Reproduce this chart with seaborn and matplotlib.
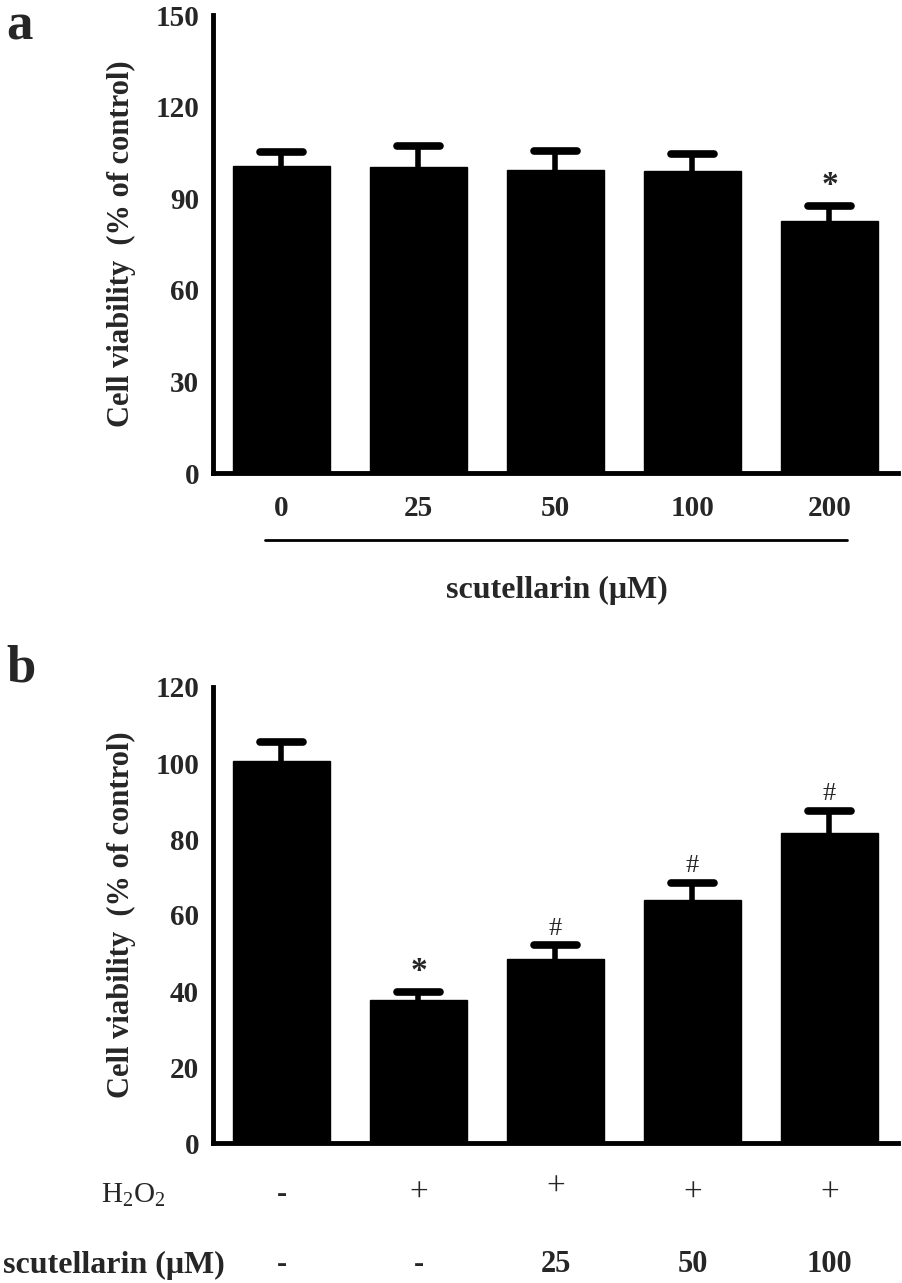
import numpy as np
import pandas as pd
import seaborn as sns
import matplotlib.pyplot as plt
import matplotlib.transforms as mtransforms

# panel a: scutellarin alone
a_doses = ['0', '25', '50', '100', '200']
a_means = [100.5, 100.3, 99.2, 98.9, 82.5]
a_err = [4.5, 6.8, 6.3, 5.6, 5.0]
a_marks = ['', '', '', '', '*']

# panel b: H2O2 + scutellarin
b_groups = ['ctrl', 'H2O2', 'H2O2+25', 'H2O2+50', 'H2O2+100']
b_means = [100.5, 37.6, 48.5, 64.0, 81.5]
b_err = [5.0, 2.2, 3.5, 4.5, 6.0]
b_marks = ['', '*', '#', '#', '#']
b_h2o2 = ['-', '+', '+', '+', '+']
b_scut = ['-', '-', '25', '50', '100']

sns.set_style('white')
plt.rcParams['font.family'] = ['Liberation Serif', 'DejaVu Serif']
plt.rcParams['mathtext.fontset'] = 'custom'
plt.rcParams['mathtext.rm'] = 'Liberation Serif'
plt.rcParams['mathtext.bf'] = 'Liberation Serif:bold'

W, H = 903, 1283
fig = plt.figure(figsize=(W / 100, H / 100), dpi=100)
ax_a = fig.add_axes([213 / W, 1 - 473 / H, 685 / W, 458 / H])
ax_b = fig.add_axes([213 / W, 1 - 1143 / H, 685 / W, 456 / H])


def draw_panel(ax, cats, means, err, marks, ymax, ystep):
    sns.barplot(x=cats, y=means, color='black', saturation=1, width=0.71,
                edgecolor='black', ax=ax)
    x = np.arange(len(cats))
    tops = np.array(means) + np.array(err)
    # upper error bars only, with rounded caps
    ax.vlines(x, means, tops, color='black', lw=4, zorder=3)
    ax.hlines(tops, x - 0.16, x + 0.16, color='black', lw=5.5, zorder=3,
              capstyle='round')
    for xi, t, s in zip(x, tops, marks):
        if s == '*':
            ax.text(xi, t + ymax * 0.01, s, ha='center', va='bottom',
                    fontsize=24, fontweight='bold')
        elif s:
            ax.text(xi, t + ymax * 0.012, s, ha='center', va='bottom',
                    fontsize=19)
    ax.set_xlim(-0.5, len(cats) - 0.5)
    ax.set_ylim(0, ymax)
    ax.set_yticks(np.arange(0, ymax + 1, ystep))
    for sp in ['top', 'right']:
        ax.spines[sp].set_visible(False)
    for sp in ['left', 'bottom']:
        ax.spines[sp].set_linewidth(3.5)
        ax.spines[sp].set_color('black')
    ax.tick_params(axis='y', length=7, width=3, labelsize=21, pad=3)
    ax.tick_params(axis='x', length=8, width=3, labelsize=21, pad=8)
    ax.set_xlabel('')
    ax.set_ylabel('Cell viability  (% of control)', fontsize=22, fontweight='bold')
    ax.yaxis.set_label_coords(-0.112, 0.5)
    for lab in ax.get_yticklabels() + ax.get_xticklabels():
        lab.set_fontweight('bold')


draw_panel(ax_a, a_doses, a_means, a_err, a_marks, 150, 30)
draw_panel(ax_b, b_groups, b_means, b_err, b_marks, 120, 20)
ax_b.set_xticklabels([])
ax_b.tick_params(axis='x', width=2)

# panel a: bracket line and x title
tr = mtransforms.blended_transform_factory(ax_a.transData, fig.transFigure)
ax_a.plot([-0.117, 4.13], [1 - 540 / H, 1 - 540 / H], color='black', lw=2,
          transform=tr, clip_on=False)
fig.text(557 / W, 1 - 590 / H, 'scutellarin (\u03bcM)', ha='center', va='center',
         fontsize=23, fontweight='bold')

# panel b: treatment rows
trb = mtransforms.blended_transform_factory(ax_b.transData, fig.transFigure)
for xi, s in enumerate(b_h2o2):
    if s == '+':
        yy = 1187 if xi == 2 else 1193
        ax_b.text(xi, 1 - yy / H, s, transform=trb, ha='center', va='center',
                  fontsize=24)
    else:
        ax_b.text(xi, 1 - 1195 / H, s, transform=trb, ha='center', va='center',
                  fontsize=22, fontweight='bold')
for xi, s in enumerate(b_scut):
    ax_b.text(xi, 1 - 1265 / H, s, transform=trb, ha='center', va='center',
              fontsize=22, fontweight='bold')
fig.text(133 / W, 1 - 1195 / H, r'H$_\mathregular{2}$O$_\mathregular{2}$',
         ha='center', va='center', fontsize=21)
fig.text(114 / W, 1 - 1265 / H, 'scutellarin (\u03bcM)', ha='center', va='center',
         fontsize=23, fontweight='bold')

# panel letters
fig.text(6 / W, 1 - 2 / H, 'a', ha='left', va='top', fontsize=38, fontweight='bold')
fig.text(6 / W, 1 - 645 / H, 'b', ha='left', va='top', fontsize=38, fontweight='bold')

fig.savefig('out.png', dpi=100, facecolor='white')
